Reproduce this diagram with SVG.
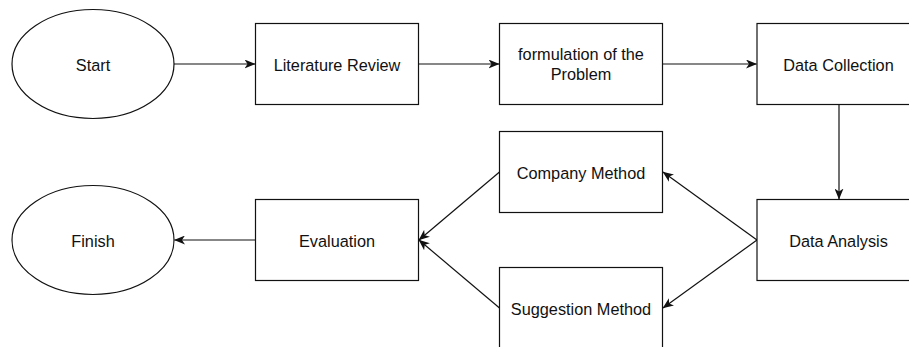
<svg xmlns="http://www.w3.org/2000/svg" width="909" height="347" viewBox="0 0 909 347">
<defs>
<style>
.n{fill:#fff;stroke:#111;stroke-width:1.2}
.t{font-family:"Liberation Sans",Arial,sans-serif;font-size:16.3px;fill:#111;text-anchor:middle;dominant-baseline:central}
.c{fill:none;stroke:#111;stroke-width:1.2}
</style>
<marker id="a" viewBox="0 0 11 9" refX="10.5" refY="4.5" markerWidth="11" markerHeight="9" markerUnits="userSpaceOnUse" orient="auto">
<path d="M0,0 L11,4.5 L0,9 L3,4.5 Z" fill="#111"/>
</marker>
</defs>
<rect width="909" height="347" fill="#fff"/>
<g id="connectors">
<line class="c" x1="174" y1="64" x2="255" y2="64" marker-end="url(#a)"/>
<line class="c" x1="418.5" y1="64" x2="499" y2="64" marker-end="url(#a)"/>
<line class="c" x1="662.5" y1="64" x2="756.5" y2="64" marker-end="url(#a)"/>
<line class="c" x1="839" y1="104.5" x2="839" y2="199" marker-end="url(#a)"/>
<line class="c" x1="757" y1="240" x2="663" y2="172" marker-end="url(#a)"/>
<line class="c" x1="757" y1="240" x2="663" y2="308" marker-end="url(#a)"/>
<line class="c" x1="499.5" y1="172" x2="419" y2="240" marker-end="url(#a)"/>
<line class="c" x1="499.5" y1="308" x2="419" y2="240" marker-end="url(#a)"/>
<line class="c" x1="255.5" y1="240" x2="174.5" y2="240" marker-end="url(#a)"/>
</g>
<g id="start"><ellipse class="n" cx="93" cy="64" rx="81" ry="54.5"/><text class="t" x="93" y="64.5">Start</text></g>
<g id="literature"><rect class="n" x="255.5" y="23.5" width="163" height="81"/><text class="t" x="337" y="64.5">Literature Review</text></g>
<g id="formulation"><rect class="n" x="499.5" y="23.5" width="163" height="81"/><text class="t" x="581" y="54">formulation of the</text><text class="t" x="581" y="74">Problem</text></g>
<g id="collection"><rect class="n" x="757" y="23.5" width="163" height="81"/><text class="t" x="838.5" y="64.5">Data Collection</text></g>
<g id="analysis"><rect class="n" x="757" y="199.5" width="163" height="81"/><text class="t" x="838.5" y="240.5">Data Analysis</text></g>
<g id="company"><rect class="n" x="499.5" y="131.5" width="163" height="81"/><text class="t" x="581" y="172.5">Company Method</text></g>
<g id="suggestion"><rect class="n" x="499.5" y="267.5" width="163" height="81"/><text class="t" x="581" y="308.5">Suggestion Method</text></g>
<g id="evaluation"><rect class="n" x="255.5" y="199.5" width="163" height="81"/><text class="t" x="337" y="240.5">Evaluation</text></g>
<g id="finish"><ellipse class="n" cx="93" cy="240" rx="81" ry="54.5"/><text class="t" x="93" y="240.5">Finish</text></g>
</svg>
